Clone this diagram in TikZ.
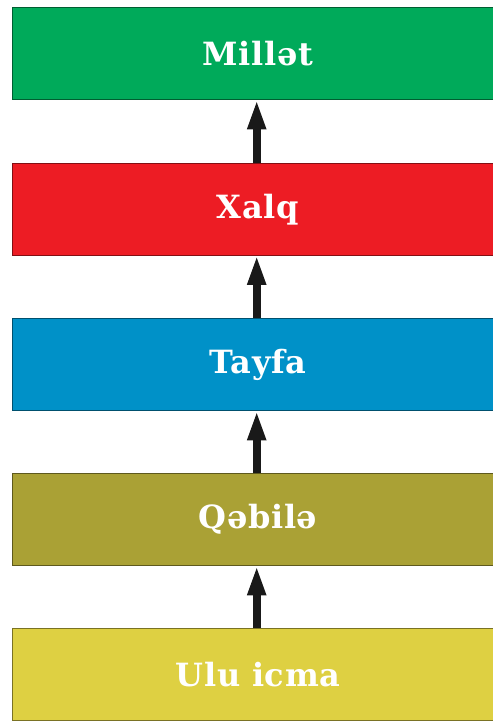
\documentclass[tikz,border=0pt]{standalone}
\usepackage{fontspec}
\setmainfont{DejaVu Serif}
\newfontfamily\boxfont[LetterSpace=2]{DejaVu Serif}
\usetikzlibrary{arrows.meta}
\definecolor{cgreen}{RGB}{0,170,90}
\definecolor{cred}{RGB}{237,28,36}
\definecolor{cblue}{RGB}{0,145,200}
\definecolor{colive}{RGB}{170,161,53}
\definecolor{cyellow}{RGB}{222,208,66}
\begin{document}
\begin{tikzpicture}[x=1pt,y=-1pt,
  levelbox/.style={rectangle, draw=#1!55!black, fill=#1, line width=1.4pt,
    minimum width=490pt, minimum height=92pt, anchor=north west, inner sep=0pt,
    text=white, font=\boxfont\fontsize{32}{36}\selectfont\bfseries},
  uparrow/.style={line width=8pt, draw=black!90, -{Triangle[width=17pt,length=30pt]}}
]
\useasboundingbox (0,0) rectangle (493,721);
\node[levelbox=cgreen] (m) at (12,7) {\hspace{0.6pt}Millət};
\node[levelbox=cred] (x) at (12,162.5) {\hspace{0.6pt}Xalq};
\node[levelbox=cblue] (t) at (12,318) {\hspace{0.6pt}Tayfa};
\node[levelbox=colive] (q) at (12,473) {\hspace{0.6pt}Qəbilə};
\node[levelbox=cyellow] (u) at (12,628) {\hspace{0.6pt}Ulu icma};
\draw[uparrow] ([xshift=-1pt]u.north) -- ([xshift=-1pt,yshift=1pt]q.south);
\draw[uparrow] ([xshift=-1pt]q.north) -- ([xshift=-1pt,yshift=1pt]t.south);
\draw[uparrow] ([xshift=-1pt]t.north) -- ([xshift=-1pt,yshift=1pt]x.south);
\draw[uparrow] ([xshift=-1pt]x.north) -- ([xshift=-1pt,yshift=1pt]m.south);
\end{tikzpicture}
\end{document}
